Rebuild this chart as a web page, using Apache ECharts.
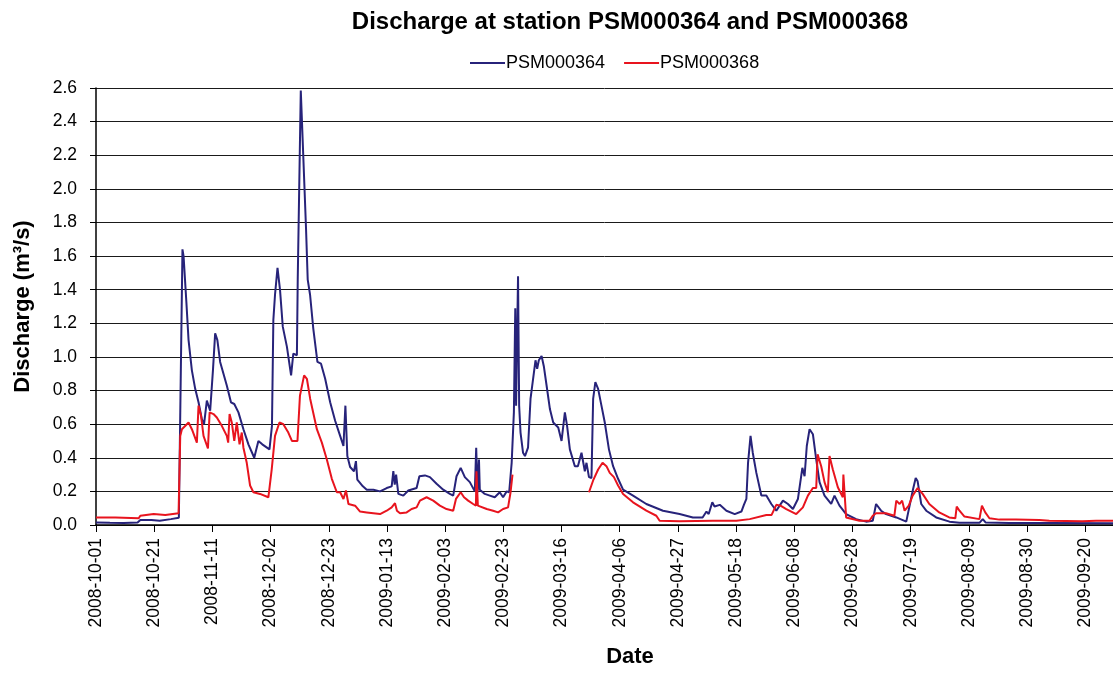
<!DOCTYPE html>
<html>
<head>
<meta charset="utf-8">
<script src="https://cdn.jsdelivr.net/npm/echarts@6/dist/echarts.min.js"></script>
<style>
html,body{margin:0;padding:0;background:#fff;}
#chart{width:1113px;height:673px;}
</style>
</head>
<body>
<div id="chart"></div>
<script>
// Tick labels (one every 21 days, first at day 0)
const tickLabels = ['2008-10-01','2008-10-21','2008-11-11','2008-12-02','2008-12-23','2009-01-13','2009-02-03','2009-02-23','2009-03-16','2009-04-06','2009-04-27','2009-05-18','2009-06-08','2009-06-28','2009-07-19','2009-08-09','2009-08-30','2009-09-20'];

// PSM000364 : day index since 2008-10-01, discharge (m3/s)
const blueDays = [0,5,10,15,16,20,23,27,29.9,31.2,31.6,32.6,33.4,34.6,35.8,37.0,38.2,39.0,40.0,40.6,41.2,42.2,43.0,43.8,44.8,46.0,47.2,48.7,49.9,51.4,53.2,55.0,57.1,58.6,60.0,62.6,63.5,64.0,64.6,65.5,66.4,67.4,68.9,70.4,71.2,72.5,72.8,73.9,75.8,76.4,77.25,78.4,79.9,81.2,82.7,84.5,86.3,88.1,89.3,90.0,90.7,91.7,93.1,93.8,94.3,96.3,97.7,100.1,102.5,104.9,106.7,107.3,107.8,108.3,109.1,110.9,112.7,115.7,116.7,118.7,120.5,122.9,125.3,127.7,128.9,130.1,131.6,133.1,134.9,136.7,137.2,137.7,138.2,138.5,140.3,142.1,143.9,145.7,146.9,148.2,149.1,150.0,150.8,151.3,151.6,152.3,152.7,153.2,154.1,154.8,155.9,156.8,157.5,158.6,159.2,159.8,160.8,161.6,162.6,163.8,165.0,166.8,168.0,169.2,170.0,171.0,172.8,173.9,175.2,176.4,177.0,177.9,178.8,179.4,180.2,181.2,182.4,183.6,185.1,186.6,188.4,190.2,193.8,198.6,204.6,210.6,215.4,218.9,220.3,221.1,222.4,223.2,225.1,227.5,230.5,232.9,233.8,234.7,235.3,236.2,237.0,238.3,240.1,241.9,243.7,245.5,246.7,247.9,249.7,251.5,253.3,254.9,255.7,256.5,257.5,258.7,259.9,261.1,262.9,265.3,266.5,268.3,270.7,274.3,277.9,280.3,281.5,283.3,285.1,288.8,292.4,294.8,295.8,296.5,297.8,299.6,303.2,308.0,311.6,318.8,320.0,321,329.6,344,367];
const blueValues = [0.015,0.013,0.012,0.015,0.03,0.03,0.025,0.035,0.043,1.64,1.60,1.33,1.10,0.92,0.81,0.73,0.63,0.60,0.74,0.75,0.68,0.92,1.14,1.10,0.97,0.90,0.83,0.73,0.72,0.67,0.57,0.48,0.40,0.50,0.48,0.45,0.59,1.22,1.37,1.53,1.40,1.18,1.06,0.89,1.02,1.01,1.46,2.585,1.76,1.46,1.37,1.17,0.97,0.96,0.87,0.73,0.62,0.53,0.47,0.71,0.41,0.345,0.32,0.38,0.27,0.23,0.21,0.21,0.20,0.22,0.23,0.32,0.24,0.30,0.185,0.175,0.205,0.22,0.29,0.295,0.285,0.245,0.21,0.185,0.175,0.29,0.34,0.285,0.255,0.20,0.46,0.195,0.39,0.21,0.185,0.175,0.165,0.195,0.165,0.20,0.195,0.37,0.67,1.29,0.71,1.48,0.71,0.55,0.43,0.41,0.46,0.75,0.84,0.98,0.93,0.98,1.005,0.945,0.83,0.69,0.61,0.58,0.50,0.67,0.59,0.45,0.35,0.35,0.43,0.32,0.37,0.285,0.28,0.75,0.85,0.81,0.71,0.61,0.45,0.35,0.275,0.21,0.175,0.125,0.085,0.065,0.045,0.045,0.08,0.065,0.135,0.11,0.12,0.085,0.065,0.08,0.12,0.155,0.37,0.53,0.43,0.31,0.175,0.175,0.125,0.085,0.115,0.145,0.125,0.095,0.155,0.34,0.29,0.47,0.57,0.54,0.39,0.255,0.175,0.125,0.175,0.115,0.065,0.035,0.02,0.025,0.125,0.085,0.065,0.045,0.02,0.21,0.28,0.26,0.125,0.085,0.045,0.02,0.013,0.013,0.035,0.015,0.012,0.012,0.01];

// PSM000368 : day index since 2008-10-01, discharge (m3/s); null = no data
const redDays = [0,7,15.4,16.0,20.8,25,29.8,30.4,31.0,33.4,34.6,36.4,37.0,37.9,38.8,40.4,41.0,42.4,43.6,45.4,47.2,47.7,48.2,49.0,49.9,50.8,51.8,52.6,53.2,54.4,55.6,56.8,59.2,62.2,62.8,63.4,64.6,66.2,67.6,69.4,70.7,72.7,73.6,75.1,76.1,77.3,79.7,81.5,83.3,85.1,86.9,88.1,89.3,90.2,91.1,93.5,95.3,97.7,100.1,102.5,104.9,106.7,107.9,108.6,109.7,112.1,113.9,115.7,116.9,119.3,121.7,124.1,126.5,128.9,129.9,131.6,132.8,134.3,136.1,137.1,137.3,137.8,141.0,143.3,145.1,146.9,148.7,149.6,150.3,164,177.9,179.4,181.2,182.8,184.2,185.4,186.1,186.9,188.4,190.2,193.8,198.6,202.2,203.4,210.6,222.6,231.1,235.9,241.9,243.8,245.5,247,249.1,252.7,255.1,256.9,258.7,259.9,260.4,261.7,262.9,264.1,264.7,265.9,267.7,269.5,269.7,270.2,270.7,275.5,279.1,280.3,281.5,285.1,288.1,288.8,290,290.9,291.8,293.3,294.7,296.5,298.3,300.7,304.3,307.9,310.1,310.6,311.6,313.4,318.8,319.7,320.9,322.4,326,332,340.4,344,355.9,360.9,367];
const redValues = [0.045,0.045,0.04,0.055,0.065,0.06,0.07,0.53,0.57,0.61,0.57,0.49,0.71,0.65,0.53,0.455,0.67,0.66,0.64,0.59,0.53,0.49,0.66,0.61,0.50,0.61,0.48,0.55,0.46,0.37,0.235,0.195,0.185,0.165,0.175,0.33,0.53,0.61,0.60,0.55,0.50,0.50,0.77,0.89,0.87,0.75,0.57,0.49,0.39,0.275,0.195,0.195,0.155,0.205,0.125,0.115,0.08,0.075,0.07,0.065,0.085,0.105,0.13,0.085,0.07,0.075,0.095,0.105,0.145,0.165,0.145,0.115,0.095,0.085,0.155,0.195,0.165,0.145,0.125,0.115,0.32,0.115,0.095,0.085,0.075,0.095,0.105,0.195,0.30,null,0.195,0.265,0.33,0.37,0.35,0.31,0.32,0.285,0.235,0.185,0.135,0.085,0.055,0.025,0.023,0.025,0.025,0.035,0.06,0.06,0.12,0.115,0.095,0.065,0.105,0.175,0.22,0.22,0.42,0.35,0.255,0.195,0.41,0.33,0.225,0.165,0.30,0.29,0.045,0.025,0.025,0.055,0.07,0.07,0.055,0.145,0.125,0.145,0.085,0.115,0.175,0.22,0.185,0.125,0.075,0.045,0.04,0.11,0.085,0.05,0.035,0.115,0.075,0.04,0.032,0.032,0.03,0.025,0.022,0.025,0.025];

const pairs = (xs, ys) => xs.map((x, i) => [x, ys[i] === null ? '-' : ys[i]]);

const font = "'Liberation Sans', Arial, sans-serif";
const chart = echarts.init(document.getElementById('chart'), null, {renderer: 'canvas'});
chart.setOption({
  animation: false,
  backgroundColor: '#fff',
  title: {
    text: 'Discharge at station PSM000364 and PSM000368',
    left: 625, top: 5, textAlign: 'center',
    textStyle: {fontFamily: font, fontSize: 24, fontWeight: 'bold', color: '#000'}
  },
  legend: {
    left: 465, top: 49,
    icon: 'rect', itemWidth: 35, itemHeight: 2, itemGap: 19,
    textStyle: {fontFamily: font, fontSize: 18, color: '#000', padding: [0,0,0,-4]},
    data: ['PSM000364', 'PSM000368']
  },
  grid: {left: 96, top: 88, right: 0, bottom: 147, containLabel: false},
  xAxis: {
    type: 'value', min: 0, max: 367, interval: 21,
    name: 'Date', nameLocation: 'middle', nameGap: 121,
    nameTextStyle: {fontFamily: font, fontSize: 22, fontWeight: 'bold', color: '#000', padding: [0,0,0,51]},
    axisLine: {show: true, onZero: false, lineStyle: {color: '#000', width: 1.5}},
    axisTick: {show: true, length: 7, lineStyle: {color: '#000'}},
    splitLine: {show: false},
    axisLabel: {
      rotate: 90, margin: 13, showMaxLabel: false,
      fontFamily: font, fontSize: 17.5, color: '#000',
      formatter: v => (v % 21 === 0 && v / 21 < tickLabels.length) ? tickLabels[v / 21] : ''
    }
  },
  yAxis: {
    type: 'value', min: 0, max: 2.6, interval: 0.2,
    name: 'Discharge (m³/s)', nameLocation: 'middle', nameGap: 62, nameRotate: 90,
    nameTextStyle: {fontFamily: font, fontSize: 22, fontWeight: 'bold', color: '#000'},
    axisLine: {show: true, lineStyle: {color: '#000', width: 1.5}},
    axisTick: {show: true, length: 6, lineStyle: {color: '#000'}},
    splitLine: {show: true, lineStyle: {color: '#1a1a1a', width: 1}},
    axisLabel: {margin: 19, fontFamily: font, fontSize: 17.5, color: '#000', formatter: v => v.toFixed(1)}
  },
  series: [
    {name: 'PSM000364', type: 'line', data: pairs(blueDays, blueValues), showSymbol: false, symbol: 'none',
     color: '#27237a', lineStyle: {width: 2, color: '#27237a'}, connectNulls: false},
    {name: 'PSM000368', type: 'line', data: pairs(redDays, redValues), showSymbol: false, symbol: 'none',
     color: '#e8141e', lineStyle: {width: 2, color: '#e8141e'}, connectNulls: false}
  ]
});
</script>
</body>
</html>
